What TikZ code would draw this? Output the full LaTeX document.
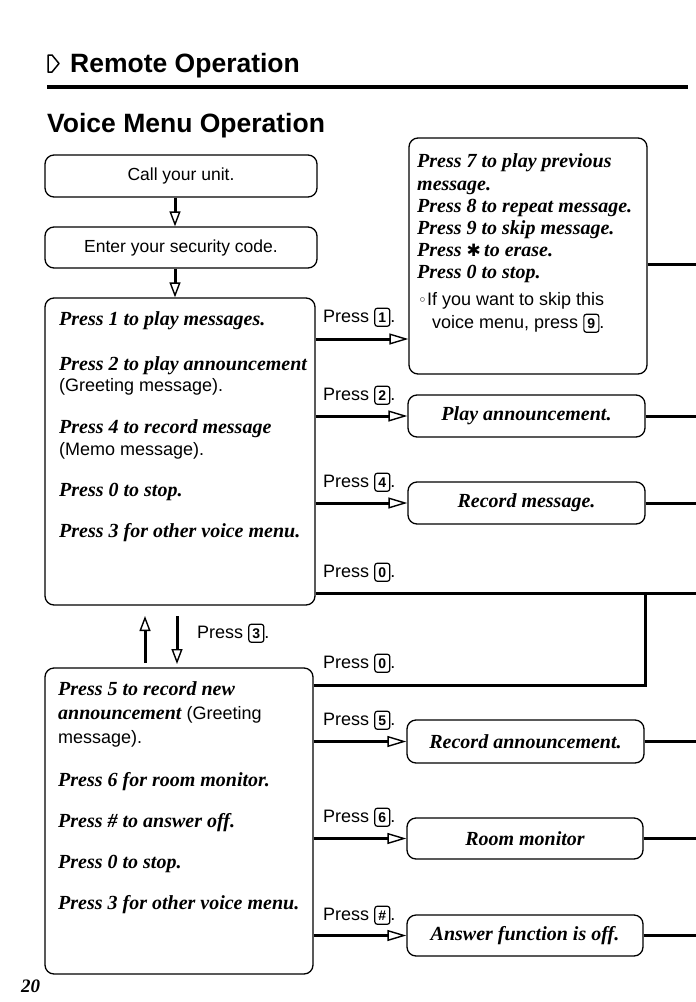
\documentclass[tikz,border=0pt]{standalone}
\usepackage{fontspec}
\setmainfont{Liberation Serif}
\setsansfont{Liberation Sans}
\newfontfamily\symfont{DejaVu Sans}
\usetikzlibrary{arrows.meta}
\newcommand\keycap[1]{\tikz[baseline]\node[anchor=base,draw,line width=1.2pt,rounded corners=2.5pt,inner sep=0pt,minimum width=15pt,minimum height=18pt,text height=11pt,text depth=1.5pt,fill=none,text=black,font=\sffamily\bfseries\fontsize{14}{14}\selectfont]{#1};}
\tikzset{
  box/.style={draw,line width=1.3pt,rounded corners=9pt,inner sep=0pt},
  sanslbl/.style={font=\sffamily\fontsize{17.5}{19}\selectfont},
  ittxt/.style={anchor=base west,inner sep=0pt,font=\fontsize{20}{22}\selectfont\bfseries\itshape},
  sanstxt/.style={anchor=base west,inner sep=0pt,font=\sffamily\fontsize{18}{20}\selectfont},
  conn/.style={line width=3pt},
  arr/.style={line width=3pt,-{Triangle[open,length=19pt,width=11pt,line width=1.4pt]}},
  varr/.style={line width=3pt,-{Triangle[open,length=15pt,width=11pt,line width=1.4pt]}},
}
\begin{document}
\begin{tikzpicture}[x=1pt,y=-1pt]
\useasboundingbox (0,0) rectangle (696,1002);
% header
\draw[line width=1.5pt,line join=round] (48,55) -- (52,55) -- (59,63.5) -- (52,72) -- (48,72) -- cycle;
\node[anchor=base west,inner sep=0pt,font=\sffamily\bfseries\fontsize{26.5}{28}\selectfont] (title1) at (70,72) {Remote Operation};
\draw[line width=3.2pt] (47,87) -- (688,87);
\node[anchor=base west,inner sep=0pt,font=\sffamily\bfseries\fontsize{26.5}{28}\selectfont] (title2) at (47,132) {Voice Menu Operation};

% left column boxes
\node[box,sanslbl,minimum width=272pt,minimum height=42pt] (call) at (181,176) {Call your unit.};
\node[box,sanslbl,minimum width=272pt,minimum height=41pt] (enter) at (181,247.5) {Enter your security code.};
\node[box,minimum width=270pt,minimum height=307pt] (menuA) at (180,451.5) {};
\node[box,minimum width=268pt,minimum height=306pt] (menuB) at (179,821) {};

\draw[varr] (call.south -| 175,0) -- (enter.north -| 175,0);
\draw[varr] (enter.south -| 175,0) -- (menuA.north -| 175,0);

% menu A text
\node[ittxt] (a1) at (59,325) {Press 1 to play messages.};
\node[ittxt] (a2) at (59,370) {Press 2 to play announcement};
\node[sanstxt] (a3) at (59,391) {(Greeting message).};
\node[ittxt] (a4) at (59,433) {Press 4 to record message};
\node[sanstxt] (a5) at (59,455) {(Memo message).};
\node[ittxt] (a6) at (59,496) {Press 0 to stop.};
\node[ittxt] (a7) at (59,537) {Press 3 for other voice menu.};

% menu B text
\node[ittxt] (b1) at (58,695) {Press 5 to record new};
\node[sanstxt] (b2) at (58,719) {{\fontsize{20}{22}\selectfont\rmfamily\bfseries\itshape announcement} (Greeting};
\node[sanstxt] (b3) at (58,743) {message).};
\node[ittxt] (b4) at (58,786) {Press 6 for room monitor.};
\node[ittxt] (b5) at (58,827) {Press \# to answer off.};
\node[ittxt] (b6) at (58,868) {Press 0 to stop.};
\node[ittxt] (b7) at (58,909) {Press 3 for other voice menu.};

% up / down between menus
\coordinate (upS) at (145,663);
\coordinate (upE) at (145,616);
\coordinate (dnS) at (177,616);
\coordinate (dnE) at (177,664);
\draw[varr] (upS) -- (upE);
\draw[varr] (dnS) -- (dnE);
\node[sanstxt] (p3) at (197,638) {Press \keycap{3}.};

% right boxes
\node[box,minimum width=238pt,minimum height=236pt] (r1) at (528,256) {};
\node[box,ittxt,anchor=center,minimum width=237pt,minimum height=42pt] (play) at (526.5,416) {Play announcement.};
\node[box,ittxt,anchor=center,minimum width=237pt,minimum height=42pt] (rec) at (526.5,503) {Record message.};
\node[box,ittxt,anchor=center,minimum width=237pt,minimum height=43pt] (recann) at (525.5,741.5) {Record announcement.};
\node[box,ittxt,anchor=center,minimum width=236pt,minimum height=41pt] (room) at (525,838.5) {Room monitor};
\node[box,ittxt,anchor=center,minimum width=236pt,minimum height=41pt] (ans) at (525,935.5) {Answer function is off.};

% r1 text
\node[ittxt] (c1) at (417,167) {Press 7 to play previous};
\node[ittxt] (c2) at (417,190) {message.};
\node[ittxt] (c3) at (417,212) {Press 8 to repeat message.};
\node[ittxt] (c4) at (417,234) {Press 9 to skip message.};
\node[ittxt] (c5) at (417,256) {Press {\symfont\fontsize{17}{17}\selectfont\upshape ✱}\,to erase.};
\node[ittxt] (c6) at (417,278) {Press 0 to stop.};
\node[sanstxt] (c7) at (418,305) {{\symfont\fontsize{15}{15}\selectfont ◦}If you want to skip this};
\node[sanstxt] (c8) at (432,328) {voice menu, press \keycap{9}.};

% press labels
\node[sanstxt] (l1) at (323,322) {Press \keycap{1}.};
\node[sanstxt] (l2) at (323,400) {Press \keycap{2}.};
\node[sanstxt] (l4) at (323,487) {Press \keycap{4}.};
\node[sanstxt] (l0) at (323,577) {Press \keycap{0}.};
\node[sanstxt] (l0b) at (323,668) {Press \keycap{0}.};
\node[sanstxt] (l5) at (323,725) {Press \keycap{5}.};
\node[sanstxt] (l6) at (323,822) {Press \keycap{6}.};
\node[sanstxt] (lh) at (323,920) {Press \keycap{\#}.};

% connectors left -> right
\draw[arr] (menuA.east |- 0,339) -- (r1.west |- 0,339);
\draw[arr] (menuA.east |- play.west) -- (play.west);
\draw[arr] (menuA.east |- rec.west) -- (rec.west);
\coordinate (j0) at (645,593);
\coordinate (e0) at (696,593);
\draw[conn] (menuA.east |- e0) -- (e0);
\draw[conn,line join=miter] (menuB.east |- 0,685) -| (j0);
\draw[arr] (menuB.east |- recann.west) -- (recann.west);
\draw[arr] (menuB.east |- room.west) -- (room.west);
\draw[arr] (menuB.east |- ans.west) -- (ans.west);

% outgoing lines to right edge
\coordinate (e1) at (696,264);
\coordinate (e2) at (696,416);
\coordinate (e3) at (696,503);
\coordinate (e5) at (696,741.5);
\coordinate (e6) at (696,838.5);
\coordinate (e7) at (696,935.5);
\draw[conn] (r1.east |- e1) -- (e1);
\draw[conn] (play.east) -- (e2);
\draw[conn] (rec.east) -- (e3);
\draw[conn] (recann.east) -- (e5);
\draw[conn] (room.east) -- (e6);
\draw[conn] (ans.east) -- (e7);

% page number
\node[anchor=base west,inner sep=0pt,font=\fontsize{19}{20}\selectfont\bfseries\itshape] (pg) at (21,992) {20};
\end{tikzpicture}
\end{document}
